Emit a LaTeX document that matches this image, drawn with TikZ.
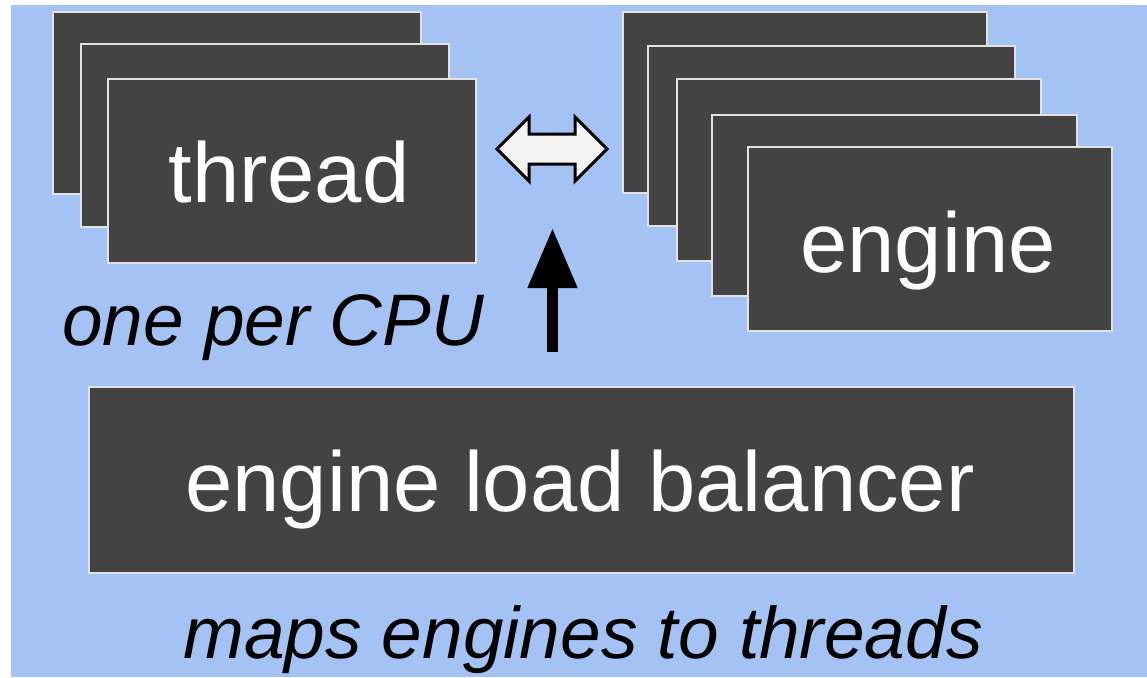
\documentclass[tikz,border=0pt]{standalone}
\usepackage{fontspec}
\setmainfont{Liberation Sans}
\usetikzlibrary{arrows.meta}
\definecolor{bgblue}{HTML}{A4C2F4}
\definecolor{boxgray}{HTML}{434343}
\definecolor{boxedge}{HTML}{E2E2E2}
\definecolor{arrowfill}{HTML}{F3F3F3}
\begin{document}
\begin{tikzpicture}[x=1pt,y=-1pt,
  card/.style={fill=boxgray, draw=boxedge, line width=2pt, anchor=north west, inner sep=0pt},
  boxtext/.style={text=white, inner sep=0pt, font=\fontsize{85}{90}\selectfont},
  note/.style={text=black, inner sep=0pt, font=\fontsize{73}{80}\selectfont\itshape}]
  \useasboundingbox (0,0) rectangle (1147,677);
  \fill[white] (0,0) rectangle (1147,677);
  \fill[bgblue] (11,5) rectangle (1147,677);

  % stack of worker threads
  \node[card, minimum width=368pt, minimum height=182pt] (t1) at (52,11) {};
  \node[card, minimum width=368pt, minimum height=183pt] (t2) at (80,43) {};
  \node[card, minimum width=368pt, minimum height=184pt] (t3) at (107,78) {};
  \node[boxtext, anchor=base] (tlabel) at (289,202) {thread};

  % stack of engines
  \node[card, minimum width=364pt, minimum height=181pt] (e1) at (622,11) {};
  \node[card, minimum width=367pt, minimum height=180pt] (e2) at (647,45) {};
  \node[card, minimum width=364pt, minimum height=182pt] (e3) at (676,78) {};
  \node[card, minimum width=365pt, minimum height=181pt] (e4) at (711,114) {};
  \node[card, minimum width=364pt, minimum height=184pt] (e5) at (747,146) {};
  \node[boxtext, anchor=base] (elabel) at (928,272) {engine};

  % load balancer
  \node[card, minimum width=985pt, minimum height=186pt] (lb) at (88,386) {};
  \node[boxtext, anchor=base] (lblabel) at (580,511) {engine load balancer};

  % captions
  \node[note, anchor=base west] (cpu) at (62,345) {one per CPU};
  \node[note, anchor=base] (maps) at (583,658) {maps engines to threads};

  % two-headed block arrow between threads and engines
  \coordinate (swap) at (552,149);
  \draw[shift={(swap)}, line width=3pt, fill=arrowfill, line join=miter]
    (-55,0) -- (-23,-32) -- (-23,-15) -- (23,-15) -- (23,-32) -- (55,0)
    -- (23,32) -- (23,15) -- (-23,15) -- (-23,32) -- cycle;

  % balancer acting on the mapping
  \coordinate (upfoot) at (552.5,352);
  \coordinate (uphead) at (552.5,228);
  \draw[line width=11pt, -{Triangle[length=60pt 0 0, width=47pt 0 0]}] (upfoot) -- (uphead);
\end{tikzpicture}
\end{document}
